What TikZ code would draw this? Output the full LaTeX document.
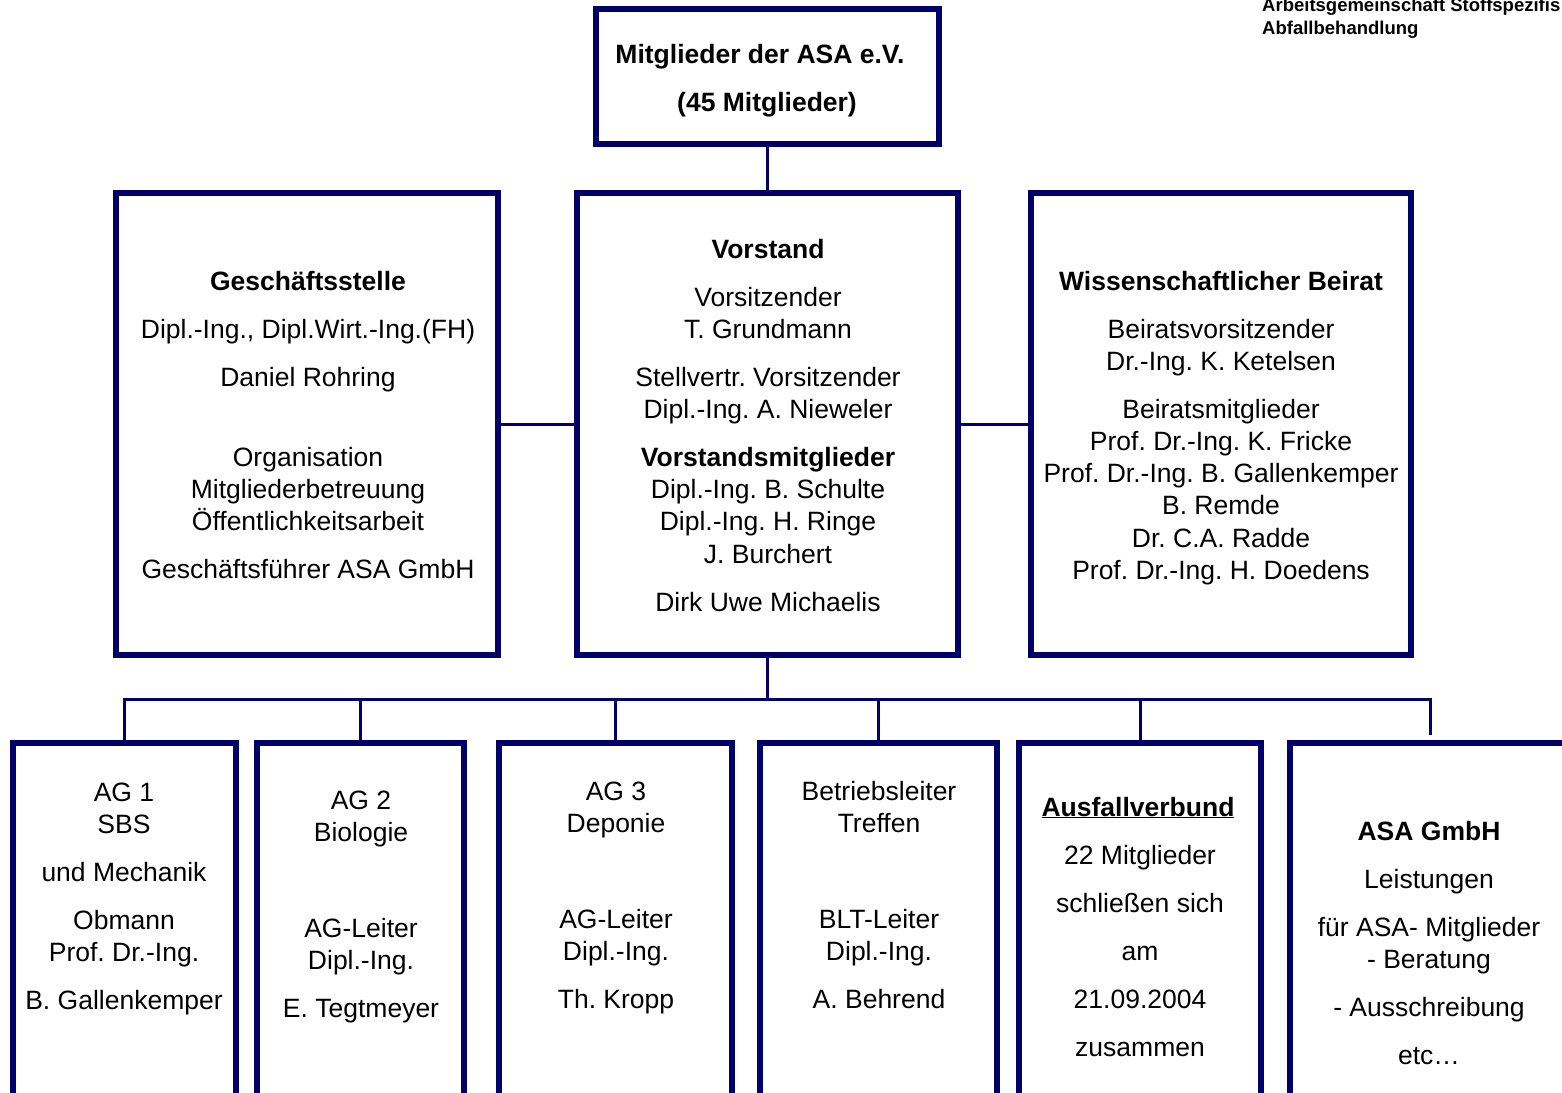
\documentclass[tikz,border=0pt]{standalone}
\usepackage{fontspec}
\setmainfont{Liberation Sans}
\frenchspacing
\definecolor{navy}{RGB}{0,0,104}
\begin{document}
\begin{tikzpicture}[x=1pt,y=-1pt,
  box/.style={draw=navy,line width=5.5pt,inner sep=0pt,fill=none},
  conn/.style={draw=navy,line width=3pt},
  txt/.style={anchor=base,inner sep=0pt,font=\fontsize{26.5}{31.8}\selectfont},
  small/.style={anchor=base west,inner sep=0pt,font=\fontsize{18.5}{21}\selectfont\bfseries}]
\clip (0,0) rectangle (1562,1092);
\fill[white] (0,0) rectangle (1562,1092);
% boxes
\node[box,minimum width=343pt,minimum height=135pt] (top) at (767.5,76.5) {};
\node[box,minimum width=382pt,minimum height=462pt] (ges) at (307,424) {};
\node[box,minimum width=381pt,minimum height=462pt] (vor) at (767.5,424) {};
\node[box,minimum width=380pt,minimum height=462pt] (bei) at (1221,424) {};
\node[box,minimum width=223pt,minimum height=400pt] (ag1) at (124.5,943) {};
\node[box,minimum width=207pt,minimum height=400pt] (ag2) at (360.5,943) {};
\node[box,minimum width=233pt,minimum height=400pt] (ag3) at (615.5,943) {};
\node[box,minimum width=237pt,minimum height=400pt] (blt) at (878.5,943) {};
\node[box,minimum width=242pt,minimum height=400pt] (aus) at (1140,943) {};
\node[box,minimum width=300pt,minimum height=400pt] (asa) at (1440,943) {};
% connectors
\coordinate (bus) at (0,699);
\coordinate (asad) at (1430,735);
\draw[conn] (top.south) -- (vor.north);
\draw[conn] (ges.east) -- (vor.west);
\draw[conn] (vor.east) -- (bei.west);
\draw[conn] (vor.south) -- (vor.south |- bus);
\draw[conn] (ag1.north) -- (ag1.north |- bus) -- (asad |- bus) -- (asad);
\foreach \n in {ag2,ag3,blt,aus} \draw[conn] (\n.north) -- (\n.north |- bus);
% header text
\node[small] (h1) at (1262,12) {Arbeitsgemeinschaft Stoffspezifis};
\node[small] (h2) at (1262,34) {Abfallbehandlung};
% top box text
\node[txt,font=\fontsize{26.5}{31.8}\selectfont\bfseries] (t1) at (760,63) {Mitglieder der ASA e.V.};
\node[txt,font=\fontsize{26.5}{31.8}\selectfont\bfseries] (t2) at (767,111) {(45 Mitglieder)};
% Geschaeftsstelle
\foreach \y/\t [count=\i] in {290/{\textbf{Geschäftsstelle}},338/{Dipl.-Ing., Dipl.Wirt.-Ing.(FH)},386/{Daniel Rohring},466/{Organisation},498/{Mitgliederbetreuung},530/{Öffentlichkeitsarbeit},578/{Geschäftsführer ASA GmbH}}
  \node[txt] (g\i) at (308,\y) {\t};
% Vorstand
\foreach \y/\t [count=\i] in {258/{\textbf{Vorstand}},306/{Vorsitzender},338/{T. Grundmann},386/{Stellvertr. Vorsitzender},418/{Dipl.-Ing. A. Nieweler},466/{\textbf{Vorstandsmitglieder}},498/{Dipl.-Ing. B. Schulte},530/{Dipl.-Ing. H. Ringe},563/{J. Burchert},611/{Dirk Uwe Michaelis}}
  \node[txt] (v\i) at (768,\y) {\t};
% Beirat
\foreach \y/\t [count=\i] in {290/{\textbf{Wissenschaftlicher Beirat}},338/{Beiratsvorsitzender},370/{Dr.-Ing. K. Ketelsen},418/{Beiratsmitglieder},450/{Prof. Dr.-Ing. K. Fricke},482/{Prof. Dr.-Ing. B. Gallenkemper},514/{B. Remde},547/{Dr. C.A. Radde},579/{Prof. Dr.-Ing. H. Doedens}}
  \node[txt] (b\i) at (1221,\y) {\t};
% AG 1
\foreach \y/\t [count=\i] in {801/{AG 1},833/{SBS},881/{und Mechanik},929/{Obmann},961/{Prof. Dr.-Ing.},1009/{B. Gallenkemper}}
  \node[txt] (a\i) at (124,\y) {\t};
% AG 2
\foreach \y/\t [count=\i] in {809/{AG 2},841/{Biologie},937/{AG-Leiter},969/{Dipl.-Ing.},1017/{E. Tegtmeyer}}
  \node[txt] (c\i) at (361,\y) {\t};
% AG 3
\foreach \y/\t [count=\i] in {800/{AG 3},832/{Deponie},928/{AG-Leiter},960/{Dipl.-Ing.},1008/{Th. Kropp}}
  \node[txt] (d\i) at (616,\y) {\t};
% Betriebsleiter
\foreach \y/\t [count=\i] in {800/{Betriebsleiter},832/{Treffen},928/{BLT-Leiter},960/{Dipl.-Ing.},1008/{A. Behrend}}
  \node[txt] (e\i) at (879,\y) {\t};
% Ausfallverbund
\node[txt] (f0) at (1138,816) {\textbf{\underline{Ausfallverbund}}};
\foreach \y/\t [count=\i] in {864/{22 Mitglieder},912/{schließen sich},960/{am},1008/{21.09.2004},1056/{zusammen}}
  \node[txt] (f\i) at (1140,\y) {\t};
% ASA GmbH
\foreach \y/\t [count=\i] in {840/{\textbf{ASA GmbH}},888/{Leistungen},936/{für ASA- Mitglieder},968/{- Beratung},1016/{- Ausschreibung},1064/{etc…}}
  \node[txt] (s\i) at (1429,\y) {\t};
\end{tikzpicture}
\end{document}
